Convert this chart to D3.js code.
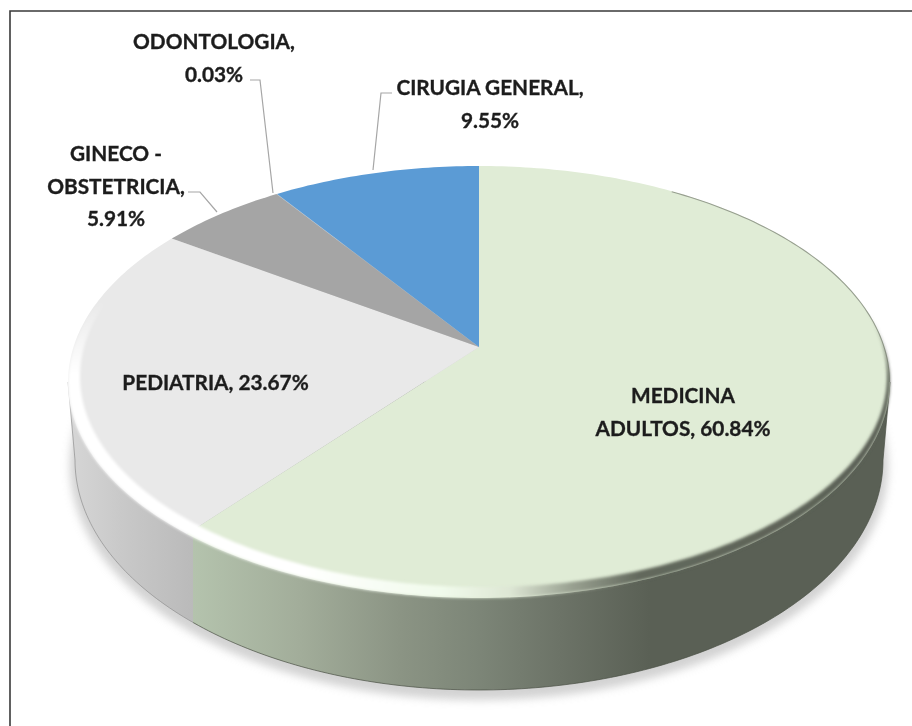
<!DOCTYPE html>
<html><head><meta charset="utf-8">
<script src="https://cdn.jsdelivr.net/npm/d3@7"></script>
<style>html,body{margin:0;padding:0;background:#fff}svg{display:block}</style>
</head><body><svg id="c" width="912" height="726"></svg>
<script>
const categories=["MEDICINA ADULTOS","PEDIATRIA","GINECO - OBSTETRICIA","ODONTOLOGIA","CIRUGIA GENERAL"];
const values=[60.84,23.67,5.91,0.03,9.55];
const sliceColors=["#e0ecd6","#e9e9e9","#a5a5a5","#a5a5a5","#5b9bd5"];
const labelLines=[["MEDICINA","ADULTOS, 60.84%"],["PEDIATRIA, 23.67%"],["GINECO -","OBSTETRICIA,","5.91%"],["ODONTOLOGIA,","0.03%"],["CIRUGIA GENERAL,","9.55%"]];
const labelAnchors=[[683,403],[215.5,390],[116,161],[214,49],[490,95]];
const leaders=[null,null,[[188,192],[200,192],[217,212]],[[250,80],[260,80],[273,193]],[[392,93],[381,93],[373,170]]];

const svg=d3.select("#c"),defs=svg.append("defs");
const AX=479,AY=347,K=0.162,B=-154.1,A=405.5;
const project=(t,r=1)=>{const u=Math.sin(t)*r,v=Math.cos(t)*r,d=1+K*v;return [AX+A*u/d,(AY+B*v)/d];};
const pie=d3.pie().sort(null).value(d=>d)(values);
const ell=(cx,cy,rx,ry)=>d3.line().curve(d3.curveLinearClosed)(d3.range(0,360,1).map(a=>[cx+rx*Math.cos(a*Math.PI/180),cy+ry*Math.sin(a*Math.PI/180)]));
const TOP=[479,382,411,216],INNER=[483.5,376.5,403.5,210.5],BOT=[479,460,404,230];

const blur=(id,s)=>defs.append("filter").attr("id",id).attr("x","-10%").attr("y","-10%").attr("width","120%").attr("height","120%").append("feGaussianBlur").attr("stdDeviation",s);
blur("sh",4);blur("bv",1.6);blur("tx",0.3);blur("ed",0.7);
const grad=(id,stops)=>{const g=defs.append("linearGradient").attr("id",id).attr("gradientUnits","userSpaceOnUse").attr("x1",60).attr("x2",900).attr("y1",0).attr("y2",0);
  stops.forEach(([x,c,o])=>g.append("stop").attr("offset",(x-60)/840).attr("stop-color",c).attr("stop-opacity",o==null?1:o));};
grad("wallG",[[193,"#b4c3ad"],[300,"#a2ad9a"],[400,"#8b9484"],[480,"#7c8577"],[560,"#6c7367"],[650,"#5a6055"],[900,"#5a6055"]]);
grad("wallP",[[70,"#d6d6d6"],[120,"#c9c9c9"],[193,"#bababa"]]);
grad("ring",[[60,"#ffffff"],[300,"#ffffff"],[440,"#f1fbec"],[510,"#dde6d4"],[570,"#9aa292"],[640,"#62685c"],[900,"#5a6055"]]);
const fade=defs.append("linearGradient").attr("id","fade").attr("gradientUnits","userSpaceOnUse").attr("x1",0).attr("x2",0).attr("y1",300).attr("y2",375);
fade.append("stop").attr("offset",0).attr("stop-color","#000");fade.append("stop").attr("offset",1).attr("stop-color","#fff");
defs.append("mask").attr("id","ringMask").attr("maskUnits","userSpaceOnUse").attr("x",0).attr("y",0).attr("width",912).attr("height",726)
  .append("rect").attr("width",912).attr("height",726).attr("fill","url(#fade)");
defs.append("clipPath").attr("id","cL").append("rect").attr("x",0).attr("y",0).attr("width",193).attr("height",726);
defs.append("clipPath").attr("id","cR").append("rect").attr("x",193).attr("y",0).attr("width",719).attr("height",726);

svg.append("path").attr("d",d3.line()([[10,726],[10,11],[912,11]])).attr("fill","none").attr("stroke","#3a3a3a").attr("stroke-width",1.6);

svg.append("path").attr("d",ell(BOT[0],BOT[1]+6,BOT[2]+5,BOT[3]+4)).attr("fill","#b5b5b5").attr("opacity",.6).attr("filter","url(#sh)");
const wall=d3.line()([[TOP[0]-TOP[2],TOP[1]]].concat(d3.range(180,-1,-1).map(a=>[BOT[0]+BOT[2]*Math.cos(a*Math.PI/180),BOT[1]+BOT[3]*Math.sin(a*Math.PI/180)]),[[TOP[0]+TOP[2],TOP[1]]]))+"Z";
[["cL","url(#wallP)","#8f8f8f"],["cR","url(#wallG)","#4a5045"]].forEach(([c,f,s])=>{
  const g=svg.append("g").attr("clip-path",`url(#${c})`);
  g.append("path").attr("d",wall).attr("fill",f).attr("stroke",s).attr("stroke-width",1).attr("stroke-opacity",.7);
});
const sliceLine=d3.line();
svg.append("g").selectAll("path").data(pie).join("path")
  .attr("d",d=>{const n=Math.max(2,Math.ceil((d.endAngle-d.startAngle)*60));
    const pts=d3.range(n+1).map(i=>project(d.startAngle+(d.endAngle-d.startAngle)*i/n));
    return sliceLine([[AX,AY],...pts])+"Z";})
  .attr("fill",(d,i)=>sliceColors[i]);
svg.append("g").attr("mask","url(#ringMask)").append("path").attr("d",ell(...TOP)+ell(...INNER)).attr("fill-rule","evenodd").attr("fill","url(#ring)").attr("filter","url(#bv)");
// faint dark rim on the upper right of the disc
svg.append("path").attr("d",d3.line()(d3.range(-62,1,1).map(a=>[TOP[0]+(TOP[2]-0.5)*Math.cos(a*Math.PI/180),TOP[1]+(TOP[3]-0.5)*Math.sin(a*Math.PI/180)])))
  .attr("fill","none").attr("stroke","#6f7569").attr("stroke-width",1.1).attr("stroke-opacity",.65).attr("filter","url(#ed)");
svg.append("g").selectAll("path").data(leaders.filter(Boolean)).join("path")
  .attr("d",d=>d3.line()(d)).attr("fill","none").attr("stroke","#a6a6a6").attr("stroke-width",1.2);
const lab=svg.append("g").attr("font-family","Lato, 'Open Sans', sans-serif").attr("font-weight",700).attr("font-size",20.8).attr("fill","#1f1f1f").attr("stroke","#1f1f1f").attr("stroke-width",0.35).attr("text-anchor","middle").attr("filter","url(#tx)");
labelLines.forEach((ls,i)=>{ls.forEach((t,j)=>lab.append("text").attr("x",labelAnchors[i][0]).attr("y",labelAnchors[i][1]+j*32.5).text(t));});
</script></body></html>
